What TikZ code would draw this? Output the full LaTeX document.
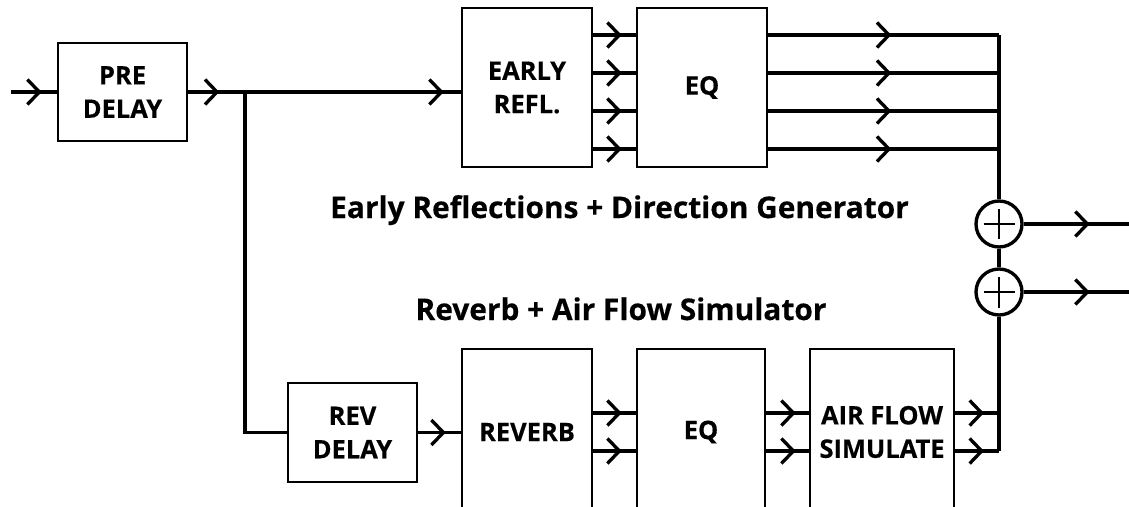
\documentclass[tikz,border=0pt]{standalone}
\usepackage{fontspec}
\setmainfont{Open Sans}[BoldFeatures={FakeBold=0.4}]
\usepackage{tikz}
\usetikzlibrary{%
arrows.meta,
decorations.markings,
positioning
}

\tikzset{
  blk/.style={draw,line width=1.5pt,align=center,inner sep=0pt,
    font=\bfseries\fontsize{14.5}{19}\selectfont},
  sig/.style={line width=1.9pt},
  tipat/.style={postaction={decorate},decoration={markings,
    mark=at position #1 with {\arrow{Straight Barb[length=0.24cm,width=0.5cm,line width=1.9pt]}}}},
  sumnode/.style={circle,draw,line width=1.9pt,minimum size=0.92cm,inner sep=0pt},
  heading/.style={anchor=base,font=\bfseries\fontsize{17}{20}\selectfont}
}

\begin{document}
\begin{tikzpicture}[x=0.02cm,y=-0.02cm]
\useasboundingbox (0,0) rectangle (1129,507);
\clip (0,0) rectangle (1129,507);
% blocks
        \node[blk,minimum width=2.58cm,minimum height=1.96cm] (pre) at (122.5,92) {PRE\\DELAY};
        \node[blk,minimum width=2.6cm,minimum height=3.18cm] (early) at (527,87.5) {EARLY\\REFL.};
        \node[blk,minimum width=2.6cm,minimum height=3.18cm] (eqtop) at (702,87.5) {EQ};
        \node[blk,minimum width=2.58cm,minimum height=1.98cm] (revdel) at (352.5,432.5) {REV\\DELAY};
        \node[blk,minimum width=2.6cm,minimum height=3.32cm] (reverb) at (527,432) {REVERB};
        \node[blk,minimum width=2.56cm,minimum height=3.32cm] (eqbot) at (701,432) {EQ};
        \node[blk,minimum width=2.88cm,minimum height=3.32cm] (air) at (882,432) {AIR FLOW\\SIMULATE};
        \node[sumnode] (sumA) at (999,224) {};
        \node[sumnode] (sumB) at (999,292) {};
        \foreach \s in {sumA,sumB} {
                \draw[line width=1.2pt] ([xshift=-0.31cm]\s.center) -- ([xshift=0.31cm]\s.center);
                \draw[line width=1.2pt] ([yshift=-0.31cm]\s.center) -- ([yshift=0.31cm]\s.center);
        }
% headings
        \node[heading] (ertitle) at (619.5,218) {Early Reflections + Direction Generator};
        \node[heading] (rvtitle) at (621,320) {Reverb + Air Flow Simulator};
% signal path
        \coordinate (in) at (11,92);
        \coordinate (split) at (245,92);
        \coordinate (bus) at (999,35);
        \coordinate (busend) at (999,451);
        \coordinate (outA) at (1135,224);
        \coordinate (outB) at (1135,292);
        \draw[sig,tipat=-0.3cm] (in) -- (pre.west |- in);
        \draw[sig,tipat=0.62cm] (pre.east |- in) -- (split);
        \draw[sig,tipat=-0.34cm] (split) -- (early.west |- split);
        \draw[sig] (split) |- (revdel.west);
        \draw[sig,tipat=-0.3cm] (revdel.east) -- (reverb.west |- revdel.east);
        \foreach \y in {35,73,111,149} {
                \coordinate (h\y) at (999,\y);
                \draw[sig,tipat=-0.28cm] (early.east |- h\y) -- (eqtop.west |- h\y);
                \draw[sig,tipat=2.46cm] (eqtop.east |- h\y) -- (h\y);
        }
        \foreach \y in {413,451} {
                \coordinate (b\y) at (999,\y);
                \draw[sig,tipat=-0.28cm] (reverb.east |- b\y) -- (eqbot.west |- b\y);
                \draw[sig,tipat=-0.26cm] (eqbot.east |- b\y) -- (air.west |- b\y);
                \draw[sig,tipat=-0.3cm] (air.east |- b\y) -- (b\y);
        }
        \draw[sig] (bus) -- (sumA.north);
        \draw[sig] (sumA.south) -- (sumB.north);
        \draw[sig] (sumB.south) -- (busend);
        \draw[sig,tipat=1.32cm] (sumA.east) -- (outA);
        \draw[sig,tipat=1.32cm] (sumB.east) -- (outB);
\end{tikzpicture}
\end{document}
